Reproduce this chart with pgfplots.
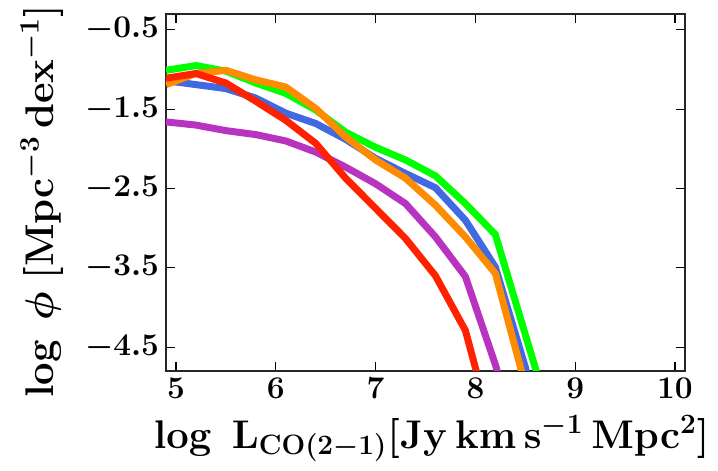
\RequirePackage{fix-cm}
\documentclass[border=0pt]{standalone}
\usepackage{pgfplots}
\pgfplotsset{compat=1.18}
\definecolor{cgreen}{HTML}{00FF00}
\definecolor{corange}{HTML}{FF8C00}
\definecolor{cblue}{HTML}{4169E1}
\definecolor{cpurple}{HTML}{B833C0}
\definecolor{cred}{HTML}{FF2200}
\begin{document}
\begin{tikzpicture}
\useasboundingbox (-83pt,-50pt) rectangle (276pt,185.5pt);
\begin{axis}[
  scale only axis,
  width=259.5pt, height=178.5pt,
  xmin=4.9, xmax=10.1, ymin=-4.8, ymax=-0.3,
  xtick={5,6,7,8,9,10},
  ytick={-4.5,-3.5,-2.5,-1.5,-0.5},
  yticklabel style={/pgf/number format/.cd,fixed,fixed zerofill,precision=1},
  tick label style={font=\fontsize{15.8}{19}\selectfont\boldmath},
  major tick length=4.5pt,
  tick style={black, line width=0.6pt},
  axis line style={line width=1pt, black!85},
  tick align=inside,
  xlabel={$\log\ \mathrm{L_{CO(2-1)}}[\mathrm{Jy\,km\,s^{-1}\,Mpc^{2}}]$},
  ylabel={$\log\ \phi\ [\mathrm{Mpc^{-3}\,dex^{-1}}]$},
  label style={font=\fontsize{20}{24}\selectfont\boldmath},
  xlabel style={at={(axis description cs:0.512,-0.19)}, anchor=center},
  ylabel style={at={(axis description cs:-0.239,0.475)}, anchor=center, rotate=0},
  every axis plot/.append style={line width=3.5pt, no markers},
]
\addplot[cgreen] coordinates {
 (4.9,-1.01) (5.2,-0.95) (5.5,-1.02) (5.8,-1.17) (6.1,-1.30) (6.4,-1.51)
 (6.7,-1.79) (7.0,-1.98) (7.3,-2.14) (7.6,-2.34) (7.9,-2.69) (8.2,-3.08) (8.8,-5.6)};
\addplot[cblue] coordinates {
 (4.9,-1.14) (5.2,-1.19) (5.5,-1.24) (5.8,-1.36) (6.1,-1.55) (6.4,-1.68)
 (6.7,-1.88) (7.0,-2.12) (7.3,-2.31) (7.6,-2.49) (7.9,-2.90) (8.2,-3.49) (8.5,-4.75) (8.8,-6.5)};
\addplot[corange] coordinates {
 (4.9,-1.19) (5.2,-1.05) (5.5,-1.01) (5.8,-1.13) (6.1,-1.22) (6.4,-1.49)
 (6.7,-1.85) (7.0,-2.14) (7.3,-2.37) (7.6,-2.71) (7.9,-3.11) (8.2,-3.57) (8.5,-4.98)};
\addplot[cpurple] coordinates {
 (4.9,-1.66) (5.2,-1.70) (5.5,-1.77) (5.8,-1.82) (6.1,-1.90) (6.4,-2.04)
 (6.7,-2.23) (7.0,-2.44) (7.3,-2.69) (7.6,-3.11) (7.9,-3.61) (8.2,-4.72) (8.5,-6.0)};
\addplot[cred] coordinates {
 (4.9,-1.11) (5.2,-1.05) (5.5,-1.17) (5.8,-1.40) (6.1,-1.64) (6.4,-1.93)
 (6.7,-2.37) (7.0,-2.75) (7.3,-3.13) (7.6,-3.60) (7.9,-4.29) (8.2,-5.7)};
\end{axis}
\end{tikzpicture}
\end{document}
